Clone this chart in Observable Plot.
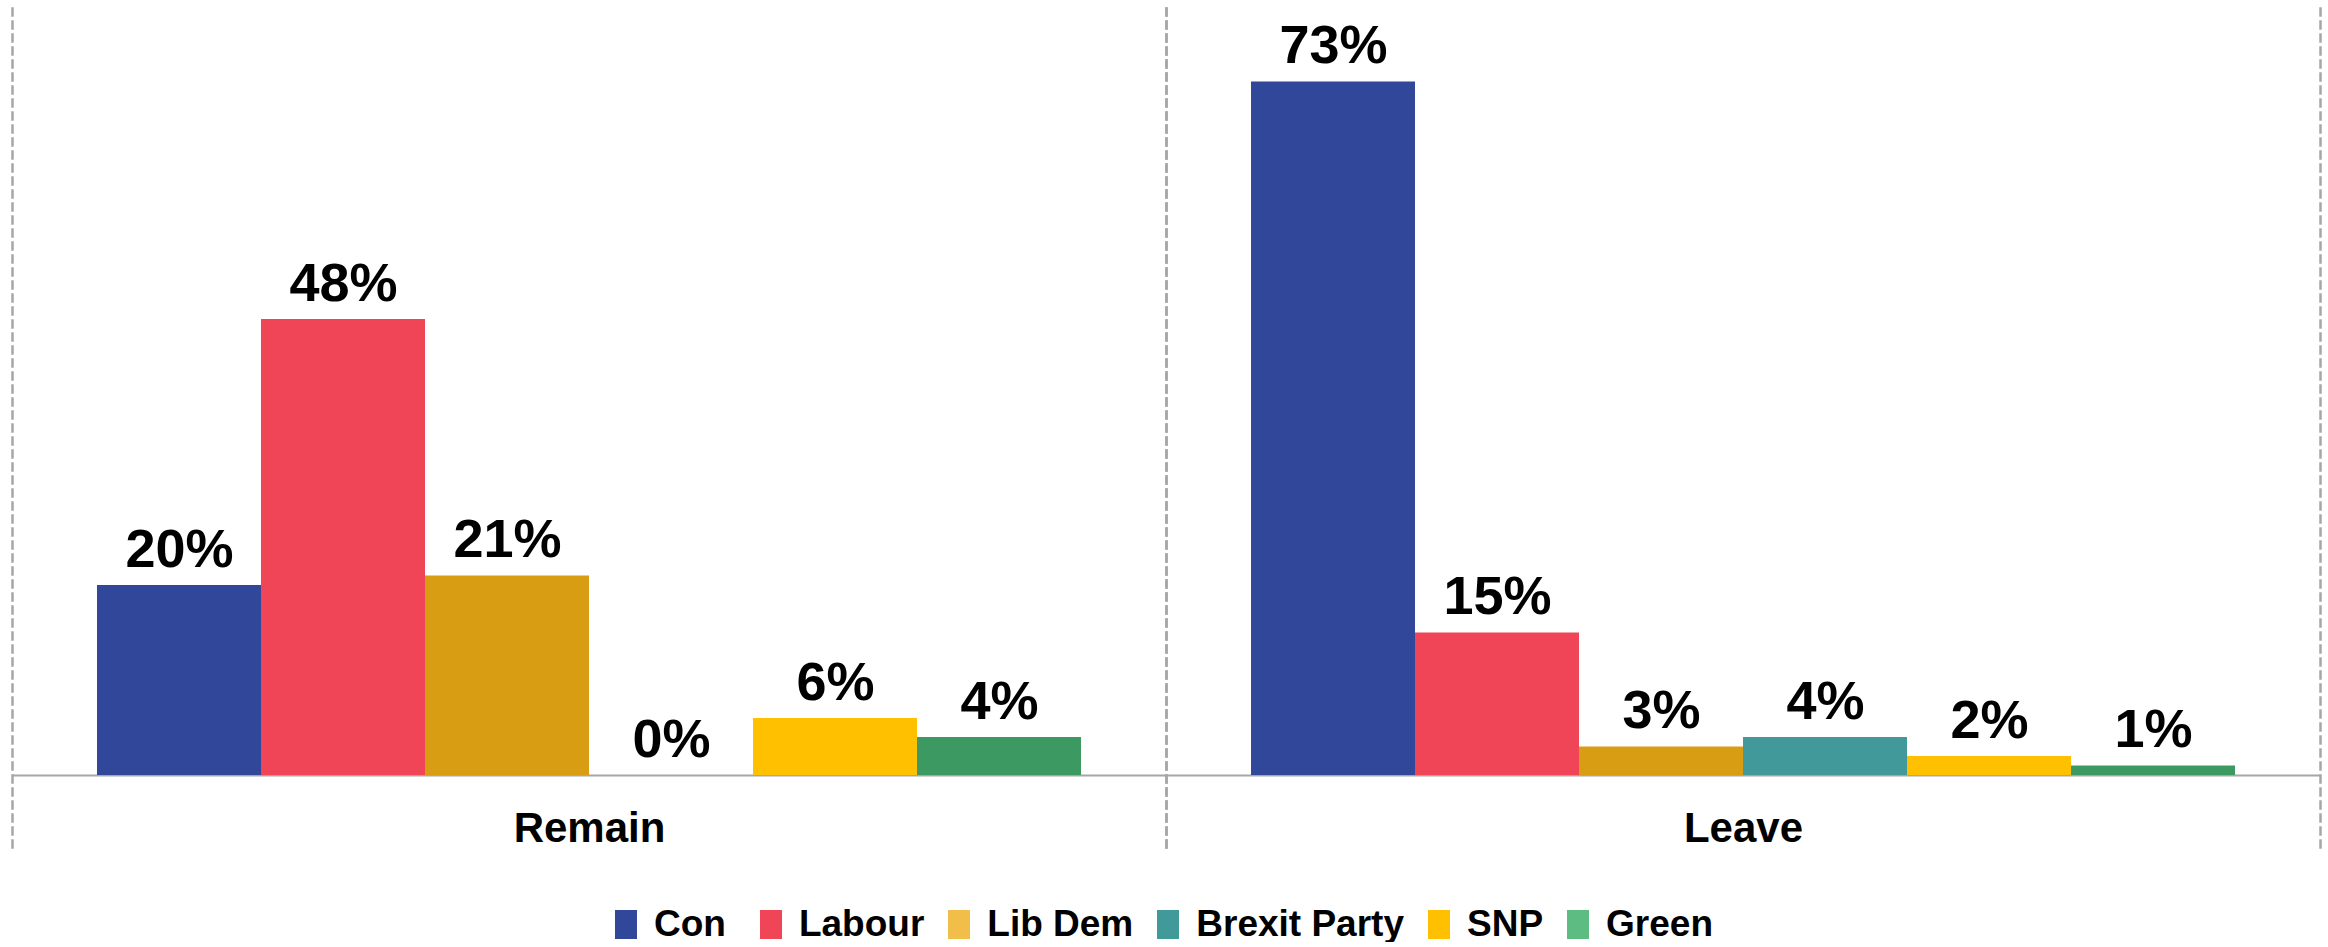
<!DOCTYPE html>
<html>
<head>
<meta charset="utf-8">
<script src="https://cdn.jsdelivr.net/npm/d3@7"></script>
<script src="https://cdn.jsdelivr.net/npm/@observablehq/plot@0.6"></script>
<style>
  body { margin: 0; background: #fff; font-family: "Liberation Sans", Arial, sans-serif; }
  #legend { display: flex; justify-content: center; align-items: center; margin-top: 36px; height: 36px; }
  .item { display: flex; align-items: center; margin: 0 12px; }
  .item:first-child { margin-right: 22px; }
  .sw { width: 22px; height: 29px; margin-right: 17px; }
  .lab { font-size: 37px; font-weight: bold; color: #000; }
</style>
</head>
<body>
<div id="chart"></div>
<div id="legend"></div>
<script>
const groups = ["Remain", "Leave"];
const parties = ["Con", "Labour", "Lib Dem", "Brexit Party", "SNP", "Green"];
const remainValues = [20, 48, 21, 0, 6, 4];
const leaveValues = [73, 15, 3, 4, 2, 1];
const barColors = ["#30479A", "#F04457", "#D99D13", "#41999A", "#FFC000", "#3D9962"];
const legendColors = ["#30479A", "#F04457", "#F2BE4A", "#41999A", "#FFC000", "#5DBC82"];

const seriesByGroup = { Remain: remainValues, Leave: leaveValues };
const data = groups.flatMap(g => parties.map((p, j) => ({ group: g, party: p, value: seriesByGroup[g][j] })));

const grid = { stroke: "#A6A6A6", strokeWidth: 2.5, strokeDasharray: "7,6", insetTop: -7, insetBottom: -74 };

const chart = Plot.plot({
  width: 2328,
  height: 870,
  marginLeft: 12,
  marginRight: 8,
  marginTop: 15,
  marginBottom: 95,
  style: { fontFamily: "Liberation Sans, Arial, sans-serif", background: "white", color: "black" },
  fx: { domain: groups, padding: 0, label: null },
  x: { domain: parties, paddingInner: 0, paddingOuter: 0.5, axis: null },
  y: { domain: [0, 80], axis: null },
  color: { domain: parties, range: barColors },
  marks: [
    Plot.frame({ anchor: "left", ...grid }),
    Plot.frame({ anchor: "right", ...grid }),
    Plot.ruleY([0], { stroke: "#A6A6A6", strokeWidth: 2 }),
    Plot.barY(data, { fx: "group", x: "party", y: "value", fill: "party" }),
    Plot.text(data, {
      fx: "group", x: "party", y: "value",
      text: d => d.value + "%",
      lineAnchor: "bottom", dy: -19,
      fontSize: 54, fontWeight: "bold", fill: "black"
    }),
    Plot.axisFx({ anchor: "bottom", tickSize: 0, tickPadding: 37, fontSize: 42, fontWeight: "bold", label: null, fill: "black" })
  ]
});
document.getElementById("chart").appendChild(chart);

const legend = document.getElementById("legend");
parties.forEach((p, i) => {
  const item = document.createElement("div");
  item.className = "item";
  const sw = document.createElement("div");
  sw.className = "sw";
  sw.style.background = legendColors[i];
  const lab = document.createElement("span");
  lab.className = "lab";
  lab.textContent = p;
  item.appendChild(sw);
  item.appendChild(lab);
  legend.appendChild(item);
});
</script>
</body>
</html>
